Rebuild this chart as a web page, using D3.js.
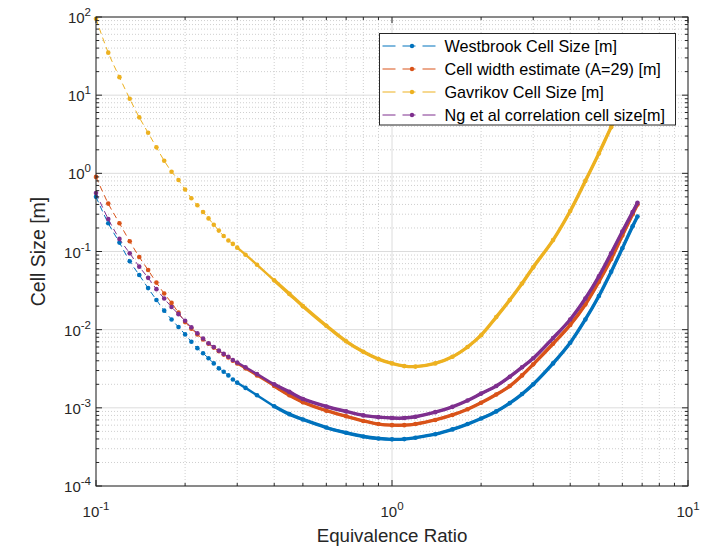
<!DOCTYPE html>
<html>
<head>
<meta charset="utf-8">
<script src="https://cdn.jsdelivr.net/npm/d3@7"></script>
<style>
  body { margin: 0; background: #fff; }
  svg { display: block; font-family: "Liberation Sans", Arial, sans-serif; }
</style>
</head>
<body>
<div id="chart"></div>
<script>
// valores (razão de equivalência x tamanho de célula)
const phi = [0.10, 0.11, 0.12, 0.13, 0.14, 0.15, 0.16, 0.17, 0.18, 0.19, 0.20,
  0.21, 0.22, 0.23, 0.24, 0.25, 0.26, 0.27, 0.28, 0.29, 0.30,
  0.32, 0.35, 0.40, 0.45, 0.50, 0.60, 0.70, 0.80, 0.90, 1.00, 1.10, 1.20,
  1.40, 1.60, 1.80, 2.00, 2.25, 2.50, 2.75, 3.00, 3.50, 4.00, 4.50, 5.00,
  5.50, 6.00, 6.50, 6.75];

const westbrook = [0.50, 0.23, 0.13, 0.075, 0.050, 0.034, 0.024, 0.0175, 0.0135, 0.0108, 0.0087,
  0.0070, 0.0058, 0.0050, 0.0043, 0.0037, 0.0032, 0.0029, 0.0026, 0.0023, 0.0021,
  0.0018, 0.00145, 0.00105, 0.00083, 0.00071, 0.00056, 0.00048, 0.00043, 0.000405, 0.000395, 0.000398, 0.000415,
  0.00046, 0.00053, 0.00062, 0.00073, 0.0009, 0.00115, 0.0015, 0.002, 0.0037, 0.0068, 0.0135, 0.027,
  0.055, 0.11, 0.21, 0.28];

const cellWidth = [0.90, 0.41, 0.23, 0.135, 0.085, 0.058, 0.040, 0.029, 0.022, 0.0165, 0.0125,
  0.0103, 0.0087, 0.0075, 0.0066, 0.0059, 0.0053, 0.0048, 0.0044, 0.0040, 0.0037,
  0.0032, 0.0026, 0.0019, 0.00145, 0.00118, 0.00092, 0.00078, 0.00068, 0.00062, 0.0006, 0.0006, 0.00062,
  0.0007, 0.00081, 0.00096, 0.00116, 0.00148, 0.0019, 0.0026, 0.0036, 0.0066, 0.0115, 0.021, 0.041,
  0.08, 0.16, 0.30, 0.40];

const gavrikov = [95, 35, 17, 9.0, 5.2, 3.3, 2.15, 1.45, 1.05, 0.82, 0.62,
  0.48, 0.39, 0.32, 0.265, 0.22, 0.185, 0.158, 0.138, 0.125, 0.112,
  0.091, 0.0676, 0.0428, 0.0287, 0.020, 0.0112, 0.0071, 0.0052, 0.0042, 0.0037, 0.00342, 0.00337,
  0.0037, 0.0045, 0.006, 0.0085, 0.0145, 0.024, 0.039, 0.063, 0.14, 0.33, 0.80, 1.8,
  3.9, 7.5, 13, 17];

const ngCorrelation = [0.56, 0.26, 0.145, 0.095, 0.064, 0.046, 0.033, 0.025, 0.0195, 0.0158, 0.0130,
  0.0107, 0.0090, 0.0077, 0.0067, 0.0060, 0.0054, 0.0049, 0.0045, 0.0041, 0.0038,
  0.0033, 0.0027, 0.0020, 0.0016, 0.0013, 0.00104, 0.0009, 0.0008, 0.00076, 0.00074, 0.00074, 0.00077,
  0.00088, 0.00103, 0.00124, 0.00152, 0.0019, 0.0025, 0.0033, 0.0043, 0.0078, 0.0135, 0.025, 0.048,
  0.095, 0.18, 0.32, 0.42];

const seriesNames = [
  "Westbrook Cell Size [m]",
  "Cell width estimate (A=29) [m]",
  "Gavrikov Cell Size [m]",
  "Ng et al correlation cell size[m]",
];
const seriesColors = ["#0072BD", "#D95319", "#EDB120", "#7E2F8E"];
const seriesValues = [westbrook, cellWidth, gavrikov, ngCorrelation];

const xTickExp = [-1, 0, 1];
const yTickExp = [-4, -3, -2, -1, 0, 1, 2];

// dimensões
const width = 720;
const height = 548;
const margin = { top: 17, right: 32, bottom: 62, left: 96 };
const plotW = width - margin.left - margin.right;
const plotH = height - margin.top - margin.bottom;

const svg = d3.select("#chart").append("svg")
  .attr("width", width)
  .attr("height", height);

const x = d3.scaleLog().domain([0.1, 10]).range([0, plotW]);
const y = d3.scaleLog().domain([1e-4, 1e2]).range([plotH, 0]);

const g = svg.append("g").attr("transform", `translate(${margin.left},${margin.top})`);

// grade menor e maior
const minorX = [], minorY = [];
[0.1, 1].forEach(d => { for (let k = 2; k <= 9; k++) minorX.push(k * d); });
for (let e = -4; e < 2; e++) for (let k = 2; k <= 9; k++) minorY.push(k * Math.pow(10, e));

g.selectAll(".minor-x").data(minorX).enter().append("line")
  .attr("x1", d => x(d)).attr("x2", d => x(d)).attr("y1", 0).attr("y2", plotH)
  .attr("stroke", "#cfcfcf").attr("stroke-dasharray", "1,2");
g.selectAll(".minor-y").data(minorY).enter().append("line")
  .attr("x1", 0).attr("x2", plotW).attr("y1", d => y(d)).attr("y2", d => y(d))
  .attr("stroke", "#cfcfcf").attr("stroke-dasharray", "1,2");
g.selectAll(".major-x").data(xTickExp).enter().append("line")
  .attr("x1", d => x(Math.pow(10, d))).attr("x2", d => x(Math.pow(10, d)))
  .attr("y1", 0).attr("y2", plotH).attr("stroke", "#dcdcdc");
g.selectAll(".major-y").data(yTickExp).enter().append("line")
  .attr("x1", 0).attr("x2", plotW)
  .attr("y1", d => y(Math.pow(10, d))).attr("y2", d => y(Math.pow(10, d)))
  .attr("stroke", "#dcdcdc");

// curvas: tracejado fino + pontos; onde os pontos se amontoam o traço engrossa
const line = d3.line()
  .x(d => x(d[0]))
  .y(d => y(d[1]))
  .curve(d3.curveCatmullRom.alpha(0.5));

seriesValues.forEach((vals, i) => {
  const pts = phi.map((p, j) => [p, vals[j]]);
  const s = g.append("g");
  s.append("path")
    .attr("d", line(pts))
    .attr("fill", "none")
    .attr("stroke", seriesColors[i])
    .attr("stroke-width", 1)
    .attr("stroke-dasharray", "6,4");
  s.append("path")
    .attr("d", line(pts.filter(d => d[0] >= 0.30)))
    .attr("fill", "none")
    .attr("stroke", seriesColors[i])
    .attr("stroke-width", 2.4)
    .attr("stroke-linecap", "round");
  s.append("path")
    .attr("d", line(pts.filter(d => d[0] >= 0.40)))
    .attr("fill", "none")
    .attr("stroke", seriesColors[i])
    .attr("stroke-width", 3.4)
    .attr("stroke-linecap", "round");
  s.selectAll("circle").data(pts).enter().append("circle")
    .attr("cx", d => x(d[0]))
    .attr("cy", d => y(d[1]))
    .attr("r", 2.3)
    .attr("fill", seriesColors[i]);
});

// ticks para dentro nos quatro lados
const tickColor = "#262626";
const ticks = g.append("g").attr("stroke", tickColor);
xTickExp.forEach(e => {
  const px = x(Math.pow(10, e));
  ticks.append("line").attr("x1", px).attr("x2", px).attr("y1", plotH).attr("y2", plotH - 6);
  ticks.append("line").attr("x1", px).attr("x2", px).attr("y1", 0).attr("y2", 6);
});
minorX.forEach(v => {
  const px = x(v);
  ticks.append("line").attr("x1", px).attr("x2", px).attr("y1", plotH).attr("y2", plotH - 3);
  ticks.append("line").attr("x1", px).attr("x2", px).attr("y1", 0).attr("y2", 3);
});
yTickExp.forEach(e => {
  const py = y(Math.pow(10, e));
  ticks.append("line").attr("x1", 0).attr("x2", 6).attr("y1", py).attr("y2", py);
  ticks.append("line").attr("x1", plotW).attr("x2", plotW - 6).attr("y1", py).attr("y2", py);
});
minorY.forEach(v => {
  const py = y(v);
  ticks.append("line").attr("x1", 0).attr("x2", 3).attr("y1", py).attr("y2", py);
  ticks.append("line").attr("x1", plotW).attr("x2", plotW - 3).attr("y1", py).attr("y2", py);
});

g.append("rect")
  .attr("width", plotW).attr("height", plotH)
  .attr("fill", "none").attr("stroke", tickColor).attr("stroke-width", 1);

// rótulos dos ticks com expoente
function powLabel(sel, e) {
  sel.append("tspan").text("10");
  sel.append("tspan").attr("dy", -7).attr("font-size", 11.5).text(e);
}

xTickExp.forEach(e => {
  const t = g.append("text")
    .attr("x", x(Math.pow(10, e)))
    .attr("y", plotH + 31)
    .attr("text-anchor", "middle")
    .attr("font-size", 15)
    .attr("fill", "#262626");
  powLabel(t, e);
});
yTickExp.forEach(e => {
  const t = g.append("text")
    .attr("x", -5)
    .attr("y", y(Math.pow(10, e)) + 6)
    .attr("text-anchor", "end")
    .attr("font-size", 15)
    .attr("fill", "#262626");
  powLabel(t, e);
});

// títulos dos eixos
svg.append("text")
  .attr("x", margin.left + plotW / 2)
  .attr("y", 542)
  .attr("text-anchor", "middle")
  .attr("font-size", 18.7)
  .attr("fill", "#262626")
  .text("Equivalence Ratio");

svg.append("text")
  .attr("transform", `translate(45,${margin.top + plotH / 2}) rotate(-90)`)
  .attr("text-anchor", "middle")
  .attr("font-size", 19.5)
  .attr("fill", "#262626")
  .text("Cell Size [m]");

// legenda
const legend = svg.append("g").attr("transform", "translate(379.5,33.5)");
legend.append("rect")
  .attr("width", 296).attr("height", 91.5)
  .attr("fill", "#fff").attr("stroke", tickColor);

seriesNames.forEach((name, i) => {
  const ly = 12.5 + i * 23;
  legend.append("line")
    .attr("x1", 3).attr("x2", 62).attr("y1", ly).attr("y2", ly)
    .attr("stroke", seriesColors[i]).attr("stroke-dasharray", "13,7");
  legend.append("circle")
    .attr("cx", 32.5).attr("cy", ly).attr("r", 2.2)
    .attr("fill", seriesColors[i]);
  legend.append("text")
    .attr("x", 65).attr("y", ly + 5.5)
    .attr("font-size", 16.2)
    .attr("fill", "#000")
    .text(name);
});
</script>
</body>
</html>
